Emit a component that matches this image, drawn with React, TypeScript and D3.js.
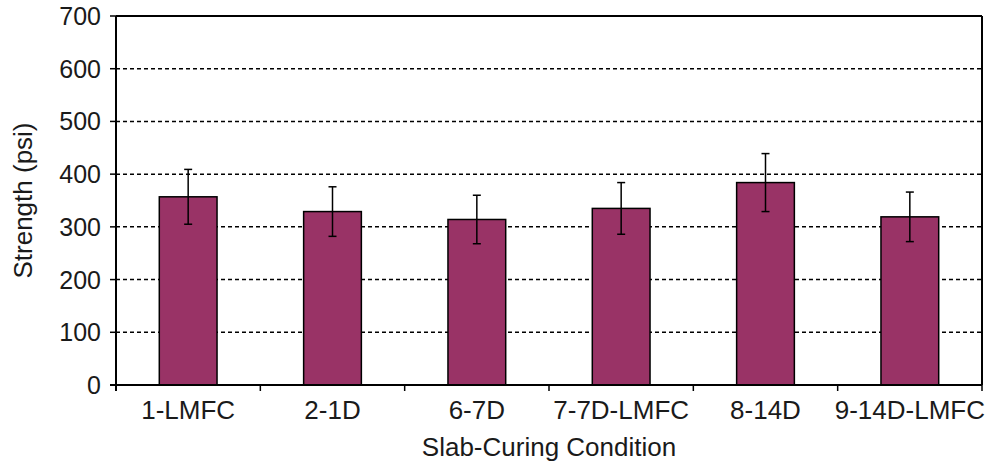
import React from "react";
import * as d3 from "d3";

const categories = ["1-LMFC", "2-1D", "6-7D", "7-7D-LMFC", "8-14D", "9-14D-LMFC"];
const strength = [357, 329, 314, 335, 384, 319];
const errors = [52, 47, 46, 49, 55, 47];
const yTicks = [0, 100, 200, 300, 400, 500, 600, 700];

const W = 989;
const H = 463;
const margin = { left: 116, right: 7, top: 16, bottom: 78 };
const FONT = "'Liberation Sans', Arial, sans-serif";
const BAR = "#993366";

export default function App() {
  const x = d3
    .scaleBand<string>()
    .domain(categories)
    .range([margin.left, W - margin.right])
    .paddingInner(0.6)
    .paddingOuter(0.3);
  const band = d3.scaleBand<string>().domain(categories).range([margin.left, W - margin.right]);
  const y = d3.scaleLinear().domain([0, 700]).range([H - margin.bottom, margin.top]);
  const x0 = margin.left;
  const x1 = W - margin.right;
  const y0 = y(0);

  return (
    <svg
      width={W}
      height={H}
      style={{ position: "absolute", left: 0, top: 0, background: "#fff" }}
      fontFamily={FONT}
    >
      {/* grid lines */}
      {yTicks
        .filter((t) => t > 0 && t < 700)
        .map((t) => (
          <line
            key={"g" + t}
            x1={x0}
            x2={x1}
            y1={y(t)}
            y2={y(t)}
            stroke="#000"
            strokeWidth={1.5}
            strokeDasharray="4,3"
          />
        ))}
      {/* bars */}
      {categories.map((c, i) => (
        <rect
          key={"b" + c}
          x={x(c)}
          y={y(strength[i])}
          width={x.bandwidth()}
          height={y0 - y(strength[i])}
          fill={BAR}
          stroke="#000"
          strokeWidth={1.5}
        />
      ))}
      {/* error bars */}
      {categories.map((c, i) => {
        const cx = (x(c) as number) + x.bandwidth() / 2;
        const hi = y(strength[i] + errors[i]);
        const lo = y(strength[i] - errors[i]);
        return (
          <g key={"e" + c} stroke="#000" strokeWidth={1.5}>
            <line x1={cx} x2={cx} y1={hi} y2={lo} />
            <line x1={cx - 4} x2={cx + 4} y1={hi} y2={hi} />
            <line x1={cx - 4} x2={cx + 4} y1={lo} y2={lo} />
          </g>
        );
      })}
      {/* frame */}
      <line x1={x0} x2={x1} y1={y(700)} y2={y(700)} stroke="#000" strokeWidth={2} />
      <line x1={x1} x2={x1} y1={y(700)} y2={y0} stroke="#000" strokeWidth={2} />
      <line x1={x0} x2={x0} y1={y(700)} y2={y0 + 6} stroke="#000" strokeWidth={2} />
      <line x1={x0 - 6} x2={x1} y1={y0} y2={y0} stroke="#000" strokeWidth={2} />
      {/* y ticks */}
      {yTicks.map((t) => (
        <g key={"y" + t}>
          <line x1={x0 - 6} x2={x0} y1={y(t)} y2={y(t)} stroke="#000" strokeWidth={1.5} />
          <text
            x={101}
            y={y(t)}
            dy="0.36em"
            textAnchor="end"
            fontSize={25}
            fill="#1a1a1a"
          >
            {t}
          </text>
        </g>
      ))}
      {/* x ticks */}
      {categories.map((c) => (
        <line
          key={"xt" + c}
          x1={(band(c) as number) + band.bandwidth()}
          x2={(band(c) as number) + band.bandwidth()}
          y1={y0}
          y2={y0 + 6}
          stroke="#000"
          strokeWidth={1.5}
        />
      ))}
      {categories.map((c) => (
        <text
          key={"xl" + c}
          x={(x(c) as number) + x.bandwidth() / 2}
          y={419}
          textAnchor="middle"
          fontSize={26}
          fill="#1a1a1a"
        >
          {c}
        </text>
      ))}
      <text x={(x0 + x1) / 2} y={456} textAnchor="middle" fontSize={26} fill="#1a1a1a">
        Slab-Curing Condition
      </text>
      <text
        transform={`translate(32,${(y(700) + y0) / 2}) rotate(-90)`}
        textAnchor="middle"
        fontSize={26}
        fill="#1a1a1a"
      >
        Strength (psi)
      </text>
    </svg>
  );
}
